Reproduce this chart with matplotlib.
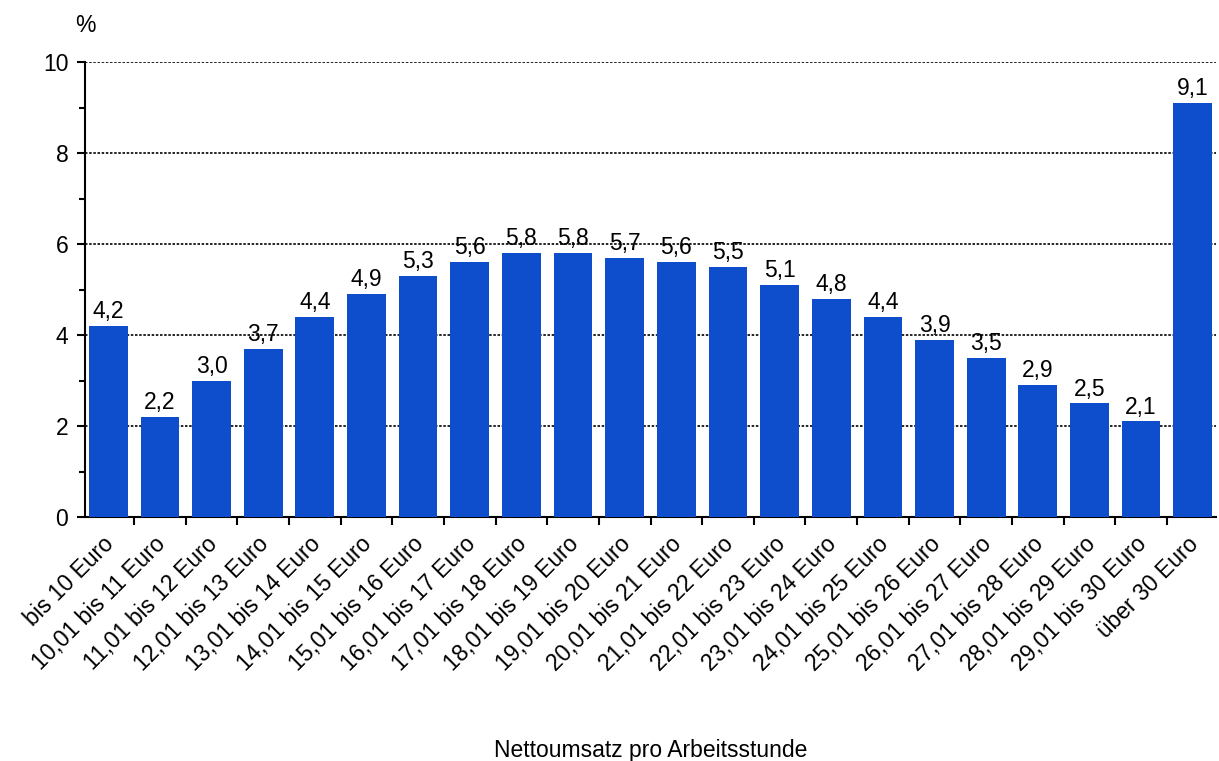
import matplotlib
matplotlib.use("Agg")
import matplotlib.pyplot as plt
from matplotlib.ticker import MultipleLocator, FixedLocator, NullFormatter
from matplotlib.transforms import ScaledTranslation

plt.rcParams['font.family'] = ['Liberation Sans', 'DejaVu Sans']

categories = ["bis 10 Euro", "10,01 bis 11 Euro", "11,01 bis 12 Euro", "12,01 bis 13 Euro",
              "13,01 bis 14 Euro", "14,01 bis 15 Euro", "15,01 bis 16 Euro", "16,01 bis 17 Euro",
              "17,01 bis 18 Euro", "18,01 bis 19 Euro", "19,01 bis 20 Euro", "20,01 bis 21 Euro",
              "21,01 bis 22 Euro", "22,01 bis 23 Euro", "23,01 bis 24 Euro", "24,01 bis 25 Euro",
              "25,01 bis 26 Euro", "26,01 bis 27 Euro", "27,01 bis 28 Euro", "28,01 bis 29 Euro",
              "29,01 bis 30 Euro", "über 30 Euro"]
values = [4.2, 2.2, 3.0, 3.7, 4.4, 4.9, 5.3, 5.6, 5.8, 5.8, 5.7, 5.6, 5.5, 5.1, 4.8, 4.4,
          3.9, 3.5, 2.9, 2.5, 2.1, 9.1]

FS = 16.5

fig = plt.figure(figsize=(12.19, 7.61), dpi=100)
ax = fig.add_axes([85/1219, 1-517/761, (1216-85)/1219, (517-62)/761])

n = len(values)
x = list(range(n))
ax.bar(x, values, width=0.75, color='#0E4ECC', zorder=3)
ax.set_xlim(-0.45, n - 0.55)
ax.set_ylim(0, 10)

ax.yaxis.set_major_locator(MultipleLocator(2))
ax.yaxis.set_minor_locator(MultipleLocator(1))
ax.yaxis.grid(True, which='major', linestyle=(0, (1.5, 1.0)), color='black', linewidth=1.2, zorder=1)
ax.set_axisbelow(True)

ax.xaxis.set_major_locator(FixedLocator([i - 0.5 for i in range(n)] + [n - 0.5]))
ax.xaxis.set_major_formatter(NullFormatter())
ax.xaxis.set_minor_locator(FixedLocator(x))
ax.set_xticklabels(categories, minor=True, rotation=45, ha='right', va='top',
                   rotation_mode='anchor', fontsize=FS)
ax.tick_params(axis='x', which='minor', length=0, pad=11)
ax.tick_params(axis='x', which='major', length=6, width=1.5, direction='out')
ax.tick_params(axis='y', which='major', length=6, width=1.5, labelsize=FS, pad=6)
ax.tick_params(axis='y', which='minor', length=4, width=1.5)

shift = ScaledTranslation(-6/100, 0, fig.dpi_scale_trans)
for lab in ax.get_xticklabels(minor=True):
    lab.set_transform(lab.get_transform() + shift)

for s in ['top', 'right']:
    ax.spines[s].set_visible(False)
ax.spines['left'].set_linewidth(1.5)
ax.spines['bottom'].set_linewidth(1.5)

for xi, v in zip(x, values):
    ax.text(xi, v + 0.06, f"{v:.1f}".replace('.', ','), ha='center', va='bottom', fontsize=FS)

fig.text(85/1219, 1-25/761, "%", ha='center', va='center', fontsize=FS)
fig.text(651/1219, 1-750/761, "Nettoumsatz pro Arbeitsstunde", ha='center', va='center', fontsize=FS)

fig.savefig("out.png", dpi=100)
